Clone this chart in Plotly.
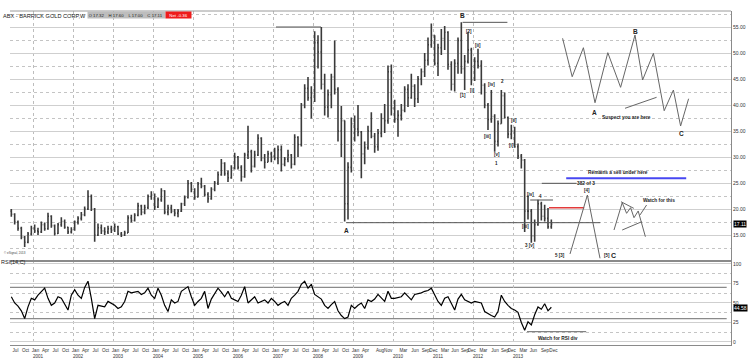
import plotly.graph_objects as go

# ---------------- data (monthly bars, Jun 2000 .. Dec 2013) ----------------
start_year, start_month = 2000, 6
first_open = 19.6

high = [
    20.0, 19.2, 17.8, 16.6, 14.8, 15.6, 16.8,                                   # 2000
    17.0, 16.4, 17.6, 17.4, 19.3, 18.8, 17.0, 17.3, 18.4, 18.0, 16.6, 16.5,     # 2001
    17.8, 18.6, 19.4, 20.5, 23.6, 22.8, 20.2, 17.2, 17.0, 16.5, 16.8, 16.8,     # 2002
    17.2, 16.8, 15.6, 15.8, 18.8, 18.9, 19.2, 21.2, 20.8, 20.8, 22.8, 23.4,     # 2003
    23.0, 22.2, 24.0, 23.6, 20.8, 20.8, 20.0, 20.0, 21.2, 22.6, 25.6, 25.2,     # 2004
    24.0, 25.2, 26.0, 24.6, 23.2, 24.2, 25.4, 27.2, 29.6, 29.0, 27.4, 28.4,     # 2005
    30.8, 30.2, 28.4, 30.8, 36.0, 31.4, 31.2, 34.4, 33.8, 30.6, 31.2, 31.0,     # 2006
    31.8, 32.2, 32.2, 30.0, 31.4, 30.6, 34.4, 34.0, 40.4, 44.0, 45.4, 43.6,     # 2007
    54.2, 53.4, 55.0, 46.0, 43.0, 46.0, 52.4, 43.4, 39.8, 37.0, 29.0, 37.6,     # 2008
    38.0, 40.0, 35.0, 33.0, 36.0, 38.6, 34.6, 35.4, 38.4, 40.2, 47.6, 47.8,     # 2009
    41.0, 39.0, 40.2, 43.6, 44.0, 46.0, 44.0, 45.6, 47.0, 50.0, 53.0, 55.7,     # 2010
    53.4, 51.8, 54.6, 55.2, 54.2, 48.4, 48.8, 53.0, 55.9, 49.6, 54.0, 51.0,     # 2011
    49.2, 50.8, 48.6, 44.2, 40.4, 42.9, 38.2, 37.0, 42.9, 42.4, 37.8, 36.2,     # 2012
    35.8, 32.6, 30.6, 29.6, 22.6, 20.0, 18.0, 21.8, 21.4, 20.8, 20.2, 18.0,     # 2013
]
low = [
    18.5, 17.0, 15.8, 14.2, 12.7, 13.4, 14.9,
    15.4, 15.0, 15.4, 15.8, 16.0, 16.4, 14.9, 15.2, 16.6, 16.2, 15.2, 15.3,
    15.8, 17.0, 17.8, 18.6, 19.8, 19.6, 13.7, 14.8, 15.2, 15.0, 15.2, 15.4,
    15.6, 15.0, 14.6, 14.8, 15.4, 17.4, 17.6, 18.6, 18.8, 19.0, 20.0, 21.8,
    19.8, 20.2, 21.4, 19.0, 18.8, 19.2, 18.6, 18.4, 19.4, 20.6, 22.0, 23.2,
    21.8, 22.2, 24.0, 22.4, 21.2, 21.8, 23.4, 24.6, 26.4, 26.4, 25.2, 25.8,
    27.6, 27.6, 25.3, 26.0, 29.6, 27.0, 28.0, 30.2, 29.2, 27.8, 29.0, 29.0,
    29.4, 28.6, 27.2, 28.2, 29.0, 27.8, 28.4, 30.0, 32.0, 39.4, 40.8, 37.4,
    40.6, 47.0, 43.0, 38.0, 37.6, 39.4, 42.0, 33.0, 30.0, 17.6, 18.0, 27.0,
    33.0, 34.0, 25.9, 28.6, 31.4, 33.6, 30.8, 31.2, 33.8, 34.6, 36.4, 38.0,
    36.6, 33.9, 37.0, 38.6, 39.6, 41.2, 39.6, 40.4, 43.8, 45.4, 47.6, 51.0,
    47.6, 45.6, 49.6, 50.6, 46.8, 42.8, 42.6, 46.0, 46.0, 42.9, 48.0, 43.8,
    44.6, 47.0, 42.0, 39.4, 35.2, 36.6, 31.0, 32.0, 36.4, 37.4, 33.6, 33.4,
    31.8, 29.6, 27.8, 15.6, 18.0, 13.5, 13.7, 16.8, 17.8, 17.6, 16.2, 16.2,
]
close = [
    19.0, 17.5, 16.3, 14.6, 13.6, 15.2, 16.3,
    15.8, 15.6, 17.0, 16.2, 18.6, 16.8, 15.3, 17.0, 17.6, 16.5, 15.6, 16.0,
    17.5, 18.2, 18.9, 20.0, 22.4, 20.0, 15.0, 16.4, 15.8, 15.6, 16.2, 15.9,
    16.6, 15.2, 15.0, 15.4, 18.3, 17.8, 18.8, 20.6, 19.4, 20.3, 22.4, 22.7,
    20.4, 21.8, 23.5, 19.4, 20.2, 19.6, 19.2, 19.6, 21.0, 22.2, 24.9, 23.8,
    22.3, 24.8, 24.4, 22.8, 22.0, 23.8, 25.0, 26.6, 28.8, 26.8, 26.0, 27.9,
    30.0, 28.0, 26.2, 30.4, 31.0, 28.2, 30.4, 33.6, 29.8, 29.0, 30.6, 30.0,
    29.8, 31.4, 28.6, 29.6, 30.4, 28.6, 33.8, 32.4, 40.0, 43.2, 41.4, 42.2,
    52.0, 50.2, 44.0, 39.6, 42.0, 45.4, 43.0, 35.0, 37.0, 21.0, 28.0, 36.4,
    35.4, 34.8, 30.6, 31.8, 35.0, 34.0, 32.0, 34.6, 37.4, 37.0, 46.4, 39.4,
    37.2, 38.0, 39.0, 43.0, 41.4, 43.6, 41.2, 45.0, 46.4, 48.6, 51.6, 53.4,
    48.0, 51.0, 52.8, 54.0, 47.8, 44.0, 48.0, 52.4, 47.0, 48.4, 50.6, 44.8,
    48.4, 47.6, 43.8, 40.0, 37.2, 37.8, 33.0, 36.4, 41.8, 37.6, 34.4, 35.0,
    32.0, 30.2, 29.4, 19.6, 19.6, 14.8, 17.0, 21.0, 18.6, 18.2, 16.6, 17.11,
]
rsi = [
    58, 50, 46, 40, 30, 45, 56,
    54, 60, 65, 69, 56, 47, 50, 58, 56, 48, 41, 60,
    67, 60, 56, 70, 78, 56, 30, 47, 46, 45, 52, 50,
    47, 43, 45, 52, 65, 63, 64, 65, 61, 63, 69, 60,
    56, 69, 60, 47, 39, 54, 50, 52, 65, 68, 71, 58,
    47, 52, 56, 65, 43, 55, 63, 69, 64, 58, 65, 56,
    54, 52, 60, 71, 50, 54, 58, 50, 52, 54, 50, 56,
    52, 47, 50, 52, 47, 56, 60, 65, 74, 78, 69, 74,
    61, 58, 55, 47, 43, 48, 52, 40, 34, 30, 32, 47,
    43, 47, 50, 43, 54, 52, 55, 61, 56, 52, 65, 56,
    56, 57, 58, 63, 58, 54, 61, 62, 63, 65, 66, 69,
    61, 52, 47, 56, 58, 50, 41, 55, 61, 54, 52, 50,
    52, 51, 50, 39, 36, 34, 32, 39, 60, 52, 47, 43,
    41, 38, 25, 15, 26, 22, 35, 45, 42, 49, 40, 44.58,
]
last_close = 17.11
last_rsi = 44.58

price_ticks = [15, 20, 25, 30, 35, 40, 45, 50, 55]
price_minor = [12.5, 17.5, 22.5, 27.5, 32.5, 37.5, 42.5, 47.5, 52.5, 57.5]
rsi_ticks = [0, 25, 50, 75, 100]
rsi_minor = [12.5, 37.5, 62.5, 87.5]
grid_years = list(range(2001, 2014))

quarter_names = {1: "Jan", 4: "Apr", 7: "Jul", 10: "Oct"}
late_month_labels = ["Aug", "Nov", "Mar", "Jun", "Sep", "Dec", "Mar", "Jun", "Sep", "Dec",
                     "Mar", "Jun", "Sep", "Dec", "Mar", "Jun", "Sep", "Dec"]
late_month_pos = [2009.675, 2009.88, 2010.26, 2010.55, 2010.82, 2011.01, 2011.30, 2011.55,
                  2011.80, 2011.97, 2012.26, 2012.55, 2012.80, 2012.97, 2013.26, 2013.51,
                  2013.80, 2014.01]
year_labels = list(range(2001, 2014))

# ---------------- derived ----------------
n = len(close)
t = [start_year + (start_month - 1 + i) / 12 + 1 / 24 for i in range(n)]
opn = [first_open] + close[:-1]

tickvals, ticktext = [], []
y, m = 2000, 7
while (y, m) <= (2009, 4):
    tickvals.append(y + (m - 1) / 12 + 0.0625)
    ticktext.append(quarter_names[m])
    m += 3
    if m > 12:
        m -= 12
        y += 1
tickvals += late_month_pos
ticktext += late_month_labels
for yr in year_labels:
    tickvals.append(yr + 0.125)
    ticktext.append("<br>" + str(yr))

FONT = "Liberation Sans, Arial, sans-serif"
DARK = "#333333"

fig = go.Figure()
fig.add_trace(go.Ohlc(
    x=t, open=opn, high=high, low=low, close=close,
    increasing=dict(line=dict(color="#3a3a3a", width=1.6)),
    decreasing=dict(line=dict(color="#3a3a3a", width=1.6)),
    tickwidth=0.3, xaxis="x", yaxis="y", hoverinfo="skip", showlegend=False))
fig.add_trace(go.Scatter(
    x=t, y=rsi, mode="lines", line=dict(color="black", width=1.2),
    xaxis="x2", yaxis="y2", hoverinfo="skip", showlegend=False))


def seg(xs, ys, color="#666666", width=1, ax="x", ay="y"):
    fig.add_trace(go.Scatter(x=xs, y=ys, mode="lines", line=dict(color=color, width=width),
                             xaxis=ax, yaxis=ay, hoverinfo="skip", showlegend=False))


# drawn annotation lines (data coordinates)
seg([2007.075, 2008.2], [55.0, 55.0], "#555555")                      # 2008 top
seg([2011.74, 2012.86], [55.9, 55.9], "#555555")                      # B top
seg([2008.83, 2015.18], [17.37, 17.37], "#555555")                    # A level
seg([2013.43, 2014.0], [21.73, 21.73], "#555555")                     # 4 level
seg([2013.72, 2014.59], [24.94, 24.94], "#555555")                    # 382 of 3
seg([2013.9, 2014.78], [20.25, 20.25], "#e23b3b", 1.5)                # red
seg([2014.33, 2017.33], [25.9, 25.9], "#4747f2", 2)                   # blue
seg([2014.425, 2014.86, 2015.175], [11.35, 22.69, 10.52], "#666666")  # big zig
seg([2014.24, 2014.48, 2014.76, 2015.05, 2015.37, 2015.69, 2016.05, 2016.24,
     2016.51, 2016.78, 2017.01, 2017.19, 2017.39],
    [52.83, 45.44, 51.02, 40.44, 50.06, 43.40, 53.46, 44.81, 49.94, 38.90, 42.88, 35.96, 41.21],
    "#666666")
seg([2015.8, 2016.59], [39.37, 41.48], "#666666")                     # suspect pointer
seg([2015.525, 2015.73, 2015.84, 2015.94, 2016.025, 2016.13, 2016.31],
    [15.96, 21.21, 19.17, 20.25, 18.33, 19.62, 14.67], "#666666")     # small zig
seg([2015.70, 2016.02], [21.40, 20.13], "#666666")
seg([2015.73, 2016.22], [15.96, 17.56], "#666666")
seg([2016.175, 2016.34], [18.85, 20.77], "#666666")
seg([2013.35, 2014.83], [13.2, 13.2], "#666666", 1, "x2", "y2")      # RSI div line

# RSI levels
for lv in (70, 30):
    fig.add_shape(type="line", xref="paper", yref="y2", x0=0, x1=0.994, y0=lv, y1=lv,
                  line=dict(color="#8a8a8a", width=1.3), layer="below")

annots = [
    ("B", 2011.73, 57.2, 6.5), ("[2]", 2011.89, 54.1, 4.5),
    ("[ii]", 2012.12, 51.35, 4.5), ("[1]", 2011.76, 41.8, 4.5),
    ("[i]", 2011.98, 42.75, 4.5), ("[iv]", 2012.47, 44.0, 4.5),
    ("2", 2012.73, 44.5, 4.5), ("[iii]", 2012.36, 33.9, 4.5),
    ("[v]", 2012.59, 30.4, 4.5), ("1", 2012.59, 28.8, 4.5),
    ("[i]", 2012.95, 32.2, 4.5), ("[ii]", 2013.03, 37.1, 4.5),
    ("[iv]", 2013.43, 22.7, 4.5), ("4", 2013.69, 22.4, 4.5),
    ("[iii]", 2013.3, 16.6, 4.5), ("3 [v]", 2013.43, 12.9, 4.5),
    ("382 of 3", 2014.83, 24.94, 4.8), ("[4]", 2014.86, 23.65, 4.5),
    ("5 [3]", 2014.18, 11.15, 4.5), ("[5]", 2015.34, 11.15, 4.5),
    ("C", 2015.52, 11.15, 7),
    ("Remains a sell under here", 2015.63, 26.98, 4.8),
    ("Suspect you are here", 2015.84, 37.56, 4.8),
    ("Watch for this", 2016.65, 21.6, 4.8),
    ("A", 2015.03, 38.6, 6.5), ("B", 2016.05, 54.2, 6.5),
    ("C", 2017.2, 34.6, 6.5), ("A", 2008.84, 15.96, 6.5),
]
for txt, ax_, ay_, sz in annots:
    fig.add_annotation(x=ax_, y=ay_, xref="x", yref="y", text="<b>%s</b>" % txt,
                       showarrow=False, font=dict(size=sz, color="#222", family=FONT))
fig.add_annotation(x=2014.13, y=5.1, xref="x2", yref="y2", text="<b>Watch for RSI div</b>",
                   showarrow=False, font=dict(size=4.8, color="#222", family=FONT))

# value badges
fig.add_annotation(x=1, y=last_close, xref="paper", yref="y", xanchor="left", xshift=2,
                   text="%.2f" % last_close, showarrow=False, bgcolor="black", borderpad=0,
                   font=dict(size=5, color="white", family=FONT))
fig.add_annotation(x=1, y=last_rsi, xref="paper", yref="y2", xanchor="left", xshift=2,
                   yshift=-1, text="%.2f" % last_rsi, showarrow=False, bgcolor="black",
                   borderpad=0, font=dict(size=5, color="white", family=FONT))

# header texts
fig.add_annotation(x=0, y=0.994, xref="paper", yref="paper", xanchor="left", xshift=-9,
                   yshift=2, text="ABX - BARRICK GOLD CORP,W", showarrow=False,
                   font=dict(size=5.6, color="#222", family=FONT))
fig.add_annotation(x=0, y=0.994, xref="paper", yref="paper", xanchor="left", xshift=77,
                   yshift=2, width=76, align="left",
                   text="O 17.32    H 17.60    L 17.00    C 17.11", showarrow=False,
                   bgcolor="#bdbdbd", borderpad=0.5, font=dict(size=4.3, color="#222", family=FONT))
fig.add_annotation(x=0, y=0.994, xref="paper", yref="paper", xanchor="left", xshift=155,
                   yshift=2, width=24, text="Net -0.36", showarrow=False, bgcolor="#ee1c1c",
                   borderpad=0.5, font=dict(size=4.3, color="white", family=FONT))
fig.add_annotation(x=0, y=0.262, xref="paper", yref="paper", xanchor="left", xshift=-8,
                   text="© eSignal, 2013", showarrow=False,
                   font=dict(size=3, color="#444", family=FONT))
fig.add_annotation(x=0, y=0.235, xref="paper", yref="paper", xanchor="left", xshift=-11,
                   text="RSI(14,C)", showarrow=False,
                   font=dict(size=5.5, color="#222", family=FONT))

# panel borders
split = 0.2515
fig.add_shape(type="line", xref="paper", yref="paper", x0=0, x1=1, y0=1, y1=1,
              line=dict(color="#9a9a9a", width=1))
fig.add_shape(type="line", xref="paper", yref="paper", x0=0, x1=1, y0=split, y1=split,
              line=dict(color="#8a8a8a", width=2))

fig.update_layout(
    width=750, height=360, margin=dict(l=10, r=19, t=11, b=15, autoexpand=False),
    paper_bgcolor="white", plot_bgcolor="white", showlegend=False,
    font=dict(family=FONT, color=DARK, size=5),
    xaxis=dict(domain=[0, 1], anchor="y", range=[2000.425, 2018.45], showticklabels=False,
               automargin=False, showgrid=False, zeroline=False,
               rangeslider=dict(visible=False),
               minor=dict(tickvals=grid_years, showgrid=True, gridcolor="#bdbdbd",
                          griddash="dot", gridwidth=1)),
    yaxis=dict(domain=[split, 1], anchor="x", side="right", range=[10.0, 58.08],
               automargin=False,
               tickvals=price_ticks, ticktext=["%.2f" % v for v in price_ticks],
               showgrid=True, gridcolor="#cfcfcf", gridwidth=1, zeroline=False,
               showline=True, linecolor="#8a8a8a", linewidth=1, ticks="",
               tickfont=dict(size=5, color=DARK),
               minor=dict(tickvals=price_minor, showgrid=True, gridcolor="#c4c4c4",
                          griddash="dot", gridwidth=1)),
    xaxis2=dict(domain=[0, 1], anchor="y2", matches="x", range=[2000.425, 2018.45],
                automargin=False,
                tickvals=tickvals, ticktext=ticktext, tickangle=0, ticks="",
                tickfont=dict(size=4.6, color=DARK), showgrid=False, zeroline=False,
                showline=True, linecolor="#8a8a8a", linewidth=1,
                minor=dict(tickvals=grid_years, showgrid=True, gridcolor="#bdbdbd",
                           griddash="dot", gridwidth=1)),
    yaxis2=dict(domain=[0, split], anchor="x2", side="right", range=[-3.85, 103.85],
                automargin=False,
                tickvals=rsi_ticks, showgrid=True, gridcolor="#cfcfcf", zeroline=False,
                showline=True, linecolor="#8a8a8a", linewidth=1, ticks="",
                tickfont=dict(size=5, color=DARK),
                minor=dict(tickvals=rsi_minor, showgrid=True, gridcolor="#c4c4c4",
                           griddash="dot", gridwidth=1)),
)

fig.write_html("out.html")
